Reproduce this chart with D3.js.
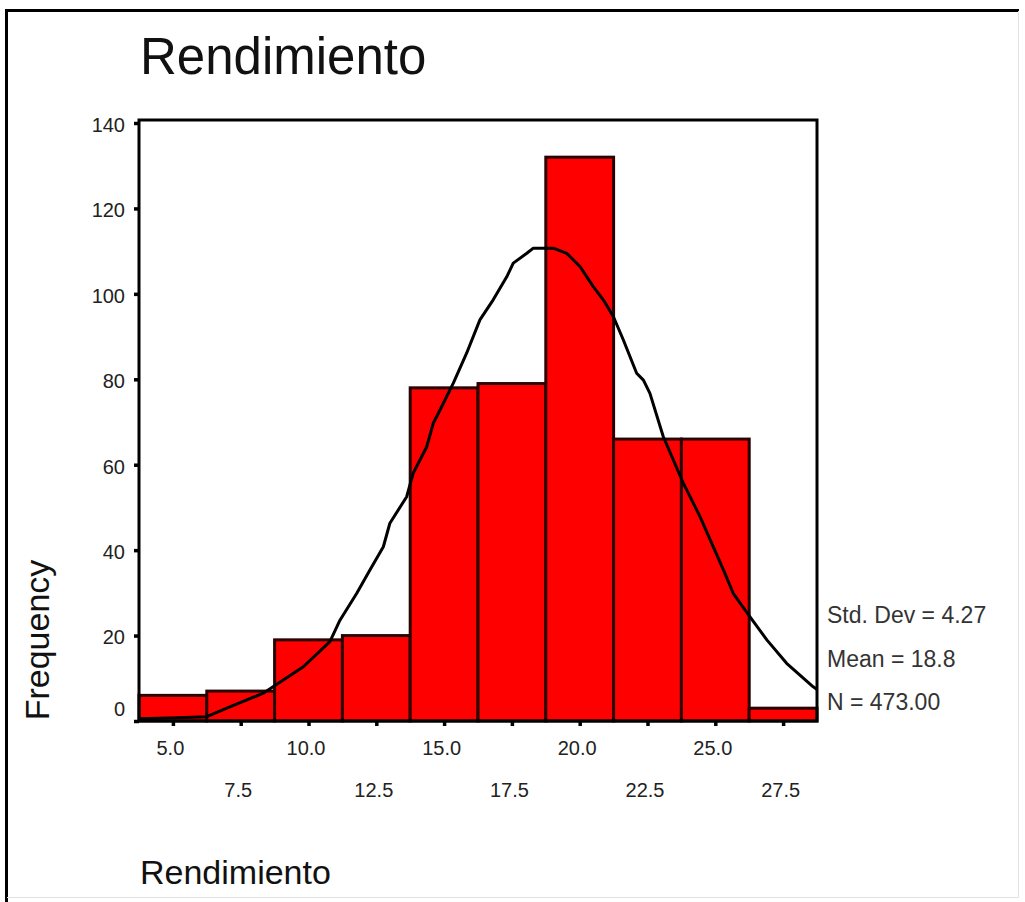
<!DOCTYPE html>
<html>
<head>
<meta charset="utf-8">
<script src="https://cdn.jsdelivr.net/npm/d3@7/dist/d3.min.js"></script>
<style>
  html, body { margin: 0; padding: 0; background: #fff; }
  svg { display: block; }
  text { font-family: "Liberation Sans", Arial, sans-serif; }
</style>
</head>
<body>
<svg id="chart" width="1025" height="902"></svg>
<script>
// ---- data ----
const binCenters = [5, 7.5, 10, 12.5, 15, 17.5, 20, 22.5, 25, 27.5];
const frequencies = [6, 7, 19, 20, 78, 79, 132, 66, 66, 3];
const binWidth = 2.5;
const xTickLabels = ["5.0", "7.5", "10.0", "12.5", "15.0", "17.5", "20.0", "22.5", "25.0", "27.5"];
const yTicks = [0, 20, 40, 60, 80, 100, 120, 140];
// fitted normal curve (value, frequency)
const curveX = [3.75, 4.89, 6.25, 7.10, 8.33, 9.81, 10.79, 11.16, 11.78, 12.27, 12.76, 13.00, 13.62, 13.86, 14.36, 14.60, 14.85, 15.34, 15.83, 16.32, 16.81, 17.31, 17.55, 18.05, 18.29, 19.03, 19.52, 20.01, 20.50, 20.87, 21.24, 21.61, 22.10, 22.35, 22.59, 23.08, 23.82, 24.44, 25.30, 25.66, 26.28, 26.90, 27.63, 28.61, 28.75];
const curveY = [0.5, 0.7, 1.0, 3.3, 6.5, 12.7, 18.6, 23.6, 29.9, 35.4, 40.8, 46.3, 52.5, 58.0, 64.2, 69.7, 72.8, 79.1, 86.1, 93.9, 98.6, 104.0, 107.2, 109.5, 110.7, 110.7, 109.5, 106.4, 101.7, 98.6, 94.7, 89.2, 81.4, 79.8, 76.7, 66.6, 55.7, 47.8, 35.4, 29.9, 24.4, 19.0, 13.5, 8.0, 7.4];
const titleText = "Rendimiento";
const xLabel = "Rendimiento";
const yLabel = "Frequency";
const statsLines = ["Std. Dev = 4.27", "Mean = 18.8", "N = 473.00"];

// ---- layout ----
const svg = d3.select("#chart");
const plot = { left: 139, right: 817, top: 123, bottom: 721 };

// outer frame
svg.append("path").attr("d", "M6.5,902 L6.5,10.5 L1019,10.5")
  .attr("fill", "none").attr("stroke", "#000").attr("stroke-width", 3);
svg.append("path").attr("d", "M1018.5,11 L1018.5,897.5 L7,897.5")
  .attr("fill", "none").attr("stroke", "#e2e2e2").attr("stroke-width", 1);

const x = d3.scaleLinear().domain([3.75, 28.75]).range([plot.left, plot.right]);
const y = d3.scaleLinear().domain([0, 140]).range([plot.bottom, plot.top]);

// title
svg.append("text").attr("x", 140).attr("y", 74)
  .attr("font-size", 51).attr("fill", "#111").text(titleText);

// bars
svg.append("g").selectAll("rect").data(binCenters).join("rect")
  .attr("x", d => x(d - binWidth / 2))
  .attr("width", d => x(d + binWidth / 2) - x(d - binWidth / 2))
  .attr("y", (d, i) => y(frequencies[i]))
  .attr("height", (d, i) => y(0) - y(frequencies[i]))
  .attr("fill", "#ff0000")
  .attr("stroke", "#2a0000")
  .attr("stroke-width", 3);

// normal curve
const line = d3.line().x(d => x(d[0])).y(d => y(d[1]));
svg.append("path").datum(curveX.map((v, i) => [v, curveY[i]]))
  .attr("d", line).attr("fill", "none")
  .attr("stroke", "#000").attr("stroke-width", 3).attr("stroke-linejoin", "round");

// plot frame
svg.append("rect").attr("x", plot.left).attr("y", 120)
  .attr("width", plot.right - plot.left).attr("height", plot.bottom - 120)
  .attr("fill", "none").attr("stroke", "#000").attr("stroke-width", 3);

// y axis
const yAxis = svg.append("g").attr("transform", `translate(${plot.left},0)`)
  .call(d3.axisLeft(y).tickValues(yTicks).tickSize(5).tickPadding(9).tickFormat(d3.format("d")));
yAxis.select(".domain").remove();
yAxis.selectAll(".tick line").attr("stroke", "#000").attr("stroke-width", 3.5);
yAxis.selectAll(".tick text")
  .attr("font-family", "Liberation Sans, Arial, sans-serif")
  .attr("font-size", 20).attr("fill", "#222")
  .attr("dy", d => d === 0 ? "-0.3em" : "0.42em");

// x axis
const xAxis = svg.append("g").attr("transform", `translate(0,${plot.bottom})`)
  .call(d3.axisBottom(x).tickValues(binCenters).tickSize(5).tickPadding(19)
    .tickFormat((d, i) => xTickLabels[i]));
xAxis.select(".domain").remove();
xAxis.selectAll(".tick line").attr("stroke", "#000").attr("stroke-width", 3.5);
xAxis.selectAll(".tick text")
  .attr("font-family", "Liberation Sans, Arial, sans-serif")
  .attr("font-size", 20).attr("fill", "#222")
  .attr("x", -3)
  .attr("y", (d, i) => i % 2 === 0 ? 20 : 62);

// axis labels
svg.append("text").attr("x", 140).attr("y", 884)
  .attr("font-size", 34).attr("fill", "#111").text(xLabel);
svg.append("text").attr("transform", "translate(49,640) rotate(-90)")
  .attr("text-anchor", "middle")
  .attr("font-size", 34).attr("fill", "#111").text(yLabel);

// stats
svg.append("g").selectAll("text").data(statsLines).join("text")
  .attr("x", 827).attr("y", (d, i) => 623 + i * 43.5)
  .attr("font-size", 23).attr("fill", "#333").text(d => d);
</script>
</body>
</html>
